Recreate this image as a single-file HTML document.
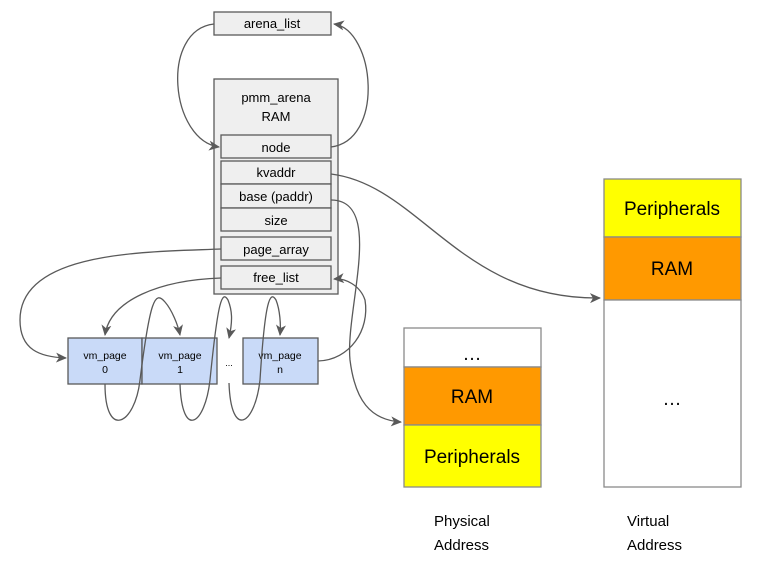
<!DOCTYPE html>
<html><head><meta charset="utf-8"><style>
html,body{margin:0;padding:0;background:#fff;}
svg{display:block;}
text{font-family:"Liberation Sans",Arial,sans-serif;fill:#000;}
</style></head><body>
<svg width="766" height="563" viewBox="0 0 766 563" xmlns="http://www.w3.org/2000/svg">
<defs>
<marker id="a" markerWidth="12" markerHeight="10" refX="10" refY="5" orient="auto" markerUnits="userSpaceOnUse">
<path d="M0,0 L11,5 L0,10 L3,5 Z" fill="#595959"/>
</marker>
</defs>
<g stroke="#595959" stroke-width="1.3" fill="#efefef">
<rect x="214" y="12" width="117" height="23"/>
<rect x="214" y="79" width="124" height="215"/>
<rect x="221" y="135" width="110" height="23"/>
<rect x="221" y="161" width="110" height="23"/>
<rect x="221" y="184" width="110" height="24"/>
<rect x="221" y="208" width="110" height="23"/>
<rect x="221" y="237" width="110" height="23"/>
<rect x="221" y="266" width="110" height="23"/>
</g>
<g stroke="#595959" stroke-width="1.3" fill="#c9daf8">
<rect x="68" y="338" width="74" height="46"/>
<rect x="142" y="338" width="75" height="46"/>
<rect x="243" y="338" width="75" height="46"/>
</g>
<g stroke="#8a8a8a" stroke-width="1.3">
<rect x="404" y="328" width="137" height="39" fill="#fff"/>
<rect x="404" y="367" width="137" height="58" fill="#ff9900"/>
<rect x="404" y="425" width="137" height="62" fill="#ffff00"/>
<rect x="604" y="179" width="137" height="58" fill="#ffff00"/>
<rect x="604" y="237" width="137" height="63" fill="#ff9900"/>
<rect x="604" y="300" width="137" height="187" fill="#fff"/>
</g>
<g font-size="13" text-anchor="middle">
<text x="272" y="28">arena_list</text>
<text x="276" y="102">pmm_arena</text>
<text x="276" y="121">RAM</text>
<text x="276" y="152">node</text>
<text x="276" y="177">kvaddr</text>
<text x="276" y="201">base (paddr)</text>
<text x="276" y="225">size</text>
<text x="276" y="254">page_array</text>
<text x="276" y="282">free_list</text>
</g>
<g font-size="10.5" text-anchor="middle">
<text x="105" y="359">vm_page</text><text x="105" y="373">0</text>
<text x="180" y="359">vm_page</text><text x="180" y="373">1</text>
<text x="280" y="359">vm_page</text><text x="280" y="373">n</text>
<text x="229" y="366" font-size="9">...</text>
</g>
<g font-size="19" text-anchor="middle">
<text x="472" y="360">…</text>
<text x="472" y="403">RAM</text>
<text x="472" y="463">Peripherals</text>
<text x="672" y="215">Peripherals</text>
<text x="672" y="275">RAM</text>
<text x="672" y="405">…</text>
</g>
<g font-size="15">
<text x="434" y="526">Physical</text><text x="434" y="550">Address</text>
<text x="627" y="526">Virtual</text><text x="627" y="550">Address</text>
</g>
<g fill="none" stroke="#595959" stroke-width="1.3">
<path d="M214,24 C160,30 170,140 219,147" marker-end="url(#a)"/>
<path d="M331,147 C385,140 375,30 334,24" marker-end="url(#a)"/>
<path d="M331,174 C420,185 460,300 600,298" marker-end="url(#a)"/>
<path d="M331,200 C385,200 345,310 350,360 C355,400 370,420 401,422" marker-end="url(#a)"/>
<path d="M221,249 C150,252 20,250 20,320 C20,350 40,357 66,358" marker-end="url(#a)"/>
<path d="M221,278 C160,280 110,300 105,335" marker-end="url(#a)"/>
<path d="M318,361 C350,360 370,330 365,300 C360,285 345,278 334,279" marker-end="url(#a)"/>
<path d="M105,384 C105,440 135,425 140,380 C150,300 155,290 165,302 C172,310 178,325 180,335" marker-end="url(#a)"/>
<path d="M180,384 C182,440 205,425 210,380 C218,300 222,290 228,300 C232,310 233,320 229,338" marker-end="url(#a)"/>
<path d="M229,383 C231,440 255,425 260,380 C265,300 270,290 276,300 C280,310 281,325 280,335" marker-end="url(#a)"/>
</g>
</svg>
</body></html>
